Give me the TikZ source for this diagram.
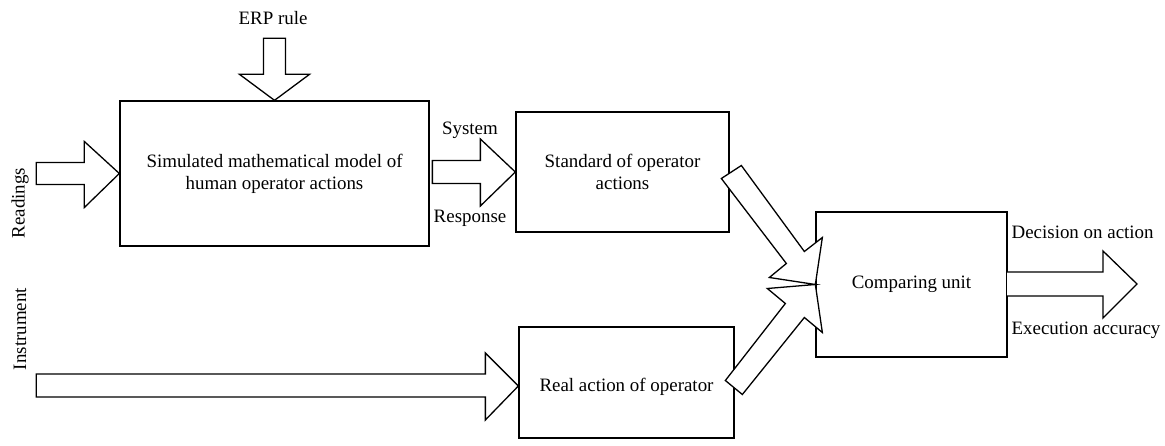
\documentclass[tikz,border=0pt]{standalone}
\usepackage{fontspec}
\setmainfont{Liberation Serif}
\usetikzlibrary{calc}
\begin{document}
\begin{tikzpicture}[x=1bp,y=-1bp, line width=1.3bp,
  box/.style={draw, fill=white, inner sep=0pt, align=center, font=\fontsize{19}{22}\selectfont},
  lbl/.style={inner sep=0pt, font=\fontsize{19}{22}\selectfont},
  blk/.style={draw, fill=white, line join=miter}]
\useasboundingbox (0,0) rectangle (1165,446);
% boxes
\node[box, minimum width=309bp, minimum height=145bp] (sim) at (274.5,173.5) {Simulated mathematical model of\\human operator actions};
\node[box, minimum width=213bp, minimum height=120bp] (std) at (622.5,172) {Standard of operator\\actions};
\node[box, minimum width=215bp, minimum height=111bp] (real) at (626.5,382.5) {};
\node[lbl] (realtxt) at ($(real.center)+(0,4)$) {Real action of operator};
\node[box, minimum width=191bp, minimum height=145bp] (cmp) at (911.5,284.5) {Comparing unit};
\coordinate (out) at (1137,284);
\coordinate (realin) at ($(real.west)+(0,3.5)$);
% labels
\node[lbl] (erp) at (273,18) {ERP rule};
\node[lbl] (sys) at (470,130) {System};
\node[lbl] (resp) at (470,218) {Response};
\node[lbl, anchor=west] (dec) at (1011,232) {Decision on action};
\node[lbl, anchor=west] (exe) at (1011,330) {Execution accuracy};
\node[lbl, rotate=90] (rd) at (20,203) {Readings};
\node[lbl, rotate=90] (ins) at (20,329) {Instrument};
% Readings arrow
\begin{scope}[shift={(sim.west)}]
\draw[blk] (-83,-11) -- (-35,-11) -- (-35,-32) -- (0,0) -- (-35,34) -- (-35,11) -- (-83,11) -- cycle;
\end{scope}
% ERP arrow
\begin{scope}[shift={(sim.north)}]
\draw[blk] (-11,-62) -- (11,-62) -- (11,-26) -- (35,-26) -- (0,0) -- (-35,-26) -- (-11,-26) -- cycle;
\end{scope}
% System/Response arrow
\begin{scope}[shift={(std.west)}]
\draw[blk] (-83,-11.5) -- (-35,-11.5) -- (-35,-33) -- (0,0) -- (-35,34) -- (-35,11.5) -- (-83,11.5) -- cycle;
\end{scope}
% Instrument arrow
\begin{scope}[shift={(realin)}]
\draw[blk] (-482,-12) -- (-33,-12) -- (-33,-33) -- (0,0) -- (-33,34) -- (-33,11) -- (-482,11) -- cycle;
\end{scope}
% Output arrow
\begin{scope}[shift={(out)}]
\draw[blk] (-130,-12) -- (-34,-12) -- (-34,-33) -- (0,0) -- (-34,34) -- (-34,12) -- (-130,12);
\end{scope}
% merging arrow into comparing unit
\begin{scope}[shift={(cmp.west)}]
\draw[blk] (-94,-106) -- (-74,-119) -- (-11,-33) -- (7,-47) -- (0,0) -- (7,48) -- (-11,33)
  -- (-73,110) -- (-90,96) -- (-30,19) -- (-48,4) -- (0,0) -- (-46,-7) -- (-29,-21) -- cycle;
\end{scope}
\end{tikzpicture}
\end{document}
